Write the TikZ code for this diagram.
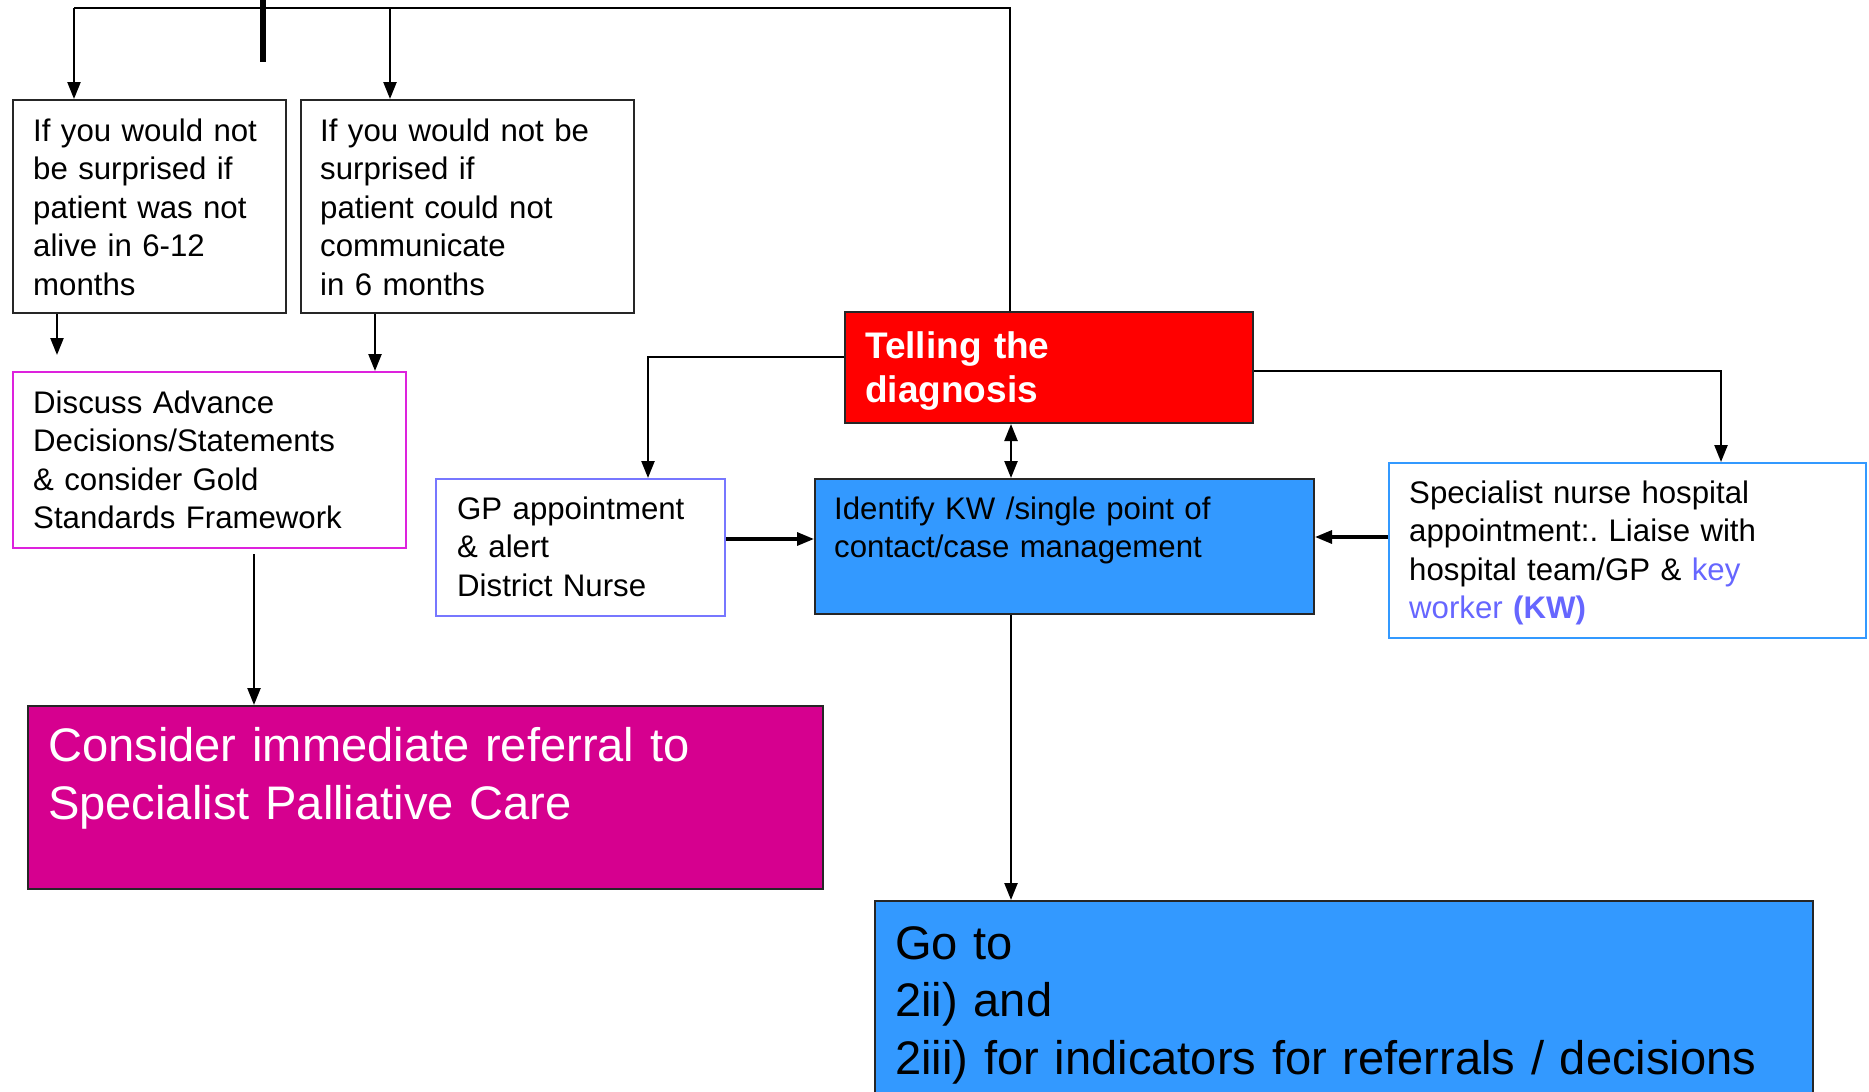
\documentclass[tikz,border=0pt]{standalone}
\usepackage{fontspec}
\setmainfont{Liberation Sans}
\usetikzlibrary{arrows.meta}
\frenchspacing
\definecolor{cred}{HTML}{FF0000}
\definecolor{cmag}{HTML}{D6008F}
\definecolor{cblue}{HTML}{3399FF}
\definecolor{cdisc}{HTML}{DD22DD}
\definecolor{cgp}{HTML}{7777FF}
\definecolor{kwc}{HTML}{6666FF}
\tikzset{
  box/.style={draw=black!85, line width=2pt, anchor=north west, inner sep=0pt, rectangle},
  conn/.style={line width=2.4pt, black},
  arr/.style={conn, -{Triangle[length=17pt,width=13pt]}},
  dbl/.style={conn, {Triangle[length=17pt,width=13pt]}-{Triangle[length=17pt,width=13pt]}},
  txt/.style={anchor=base west, inner sep=0pt, align=left, text width=1000pt, font=\fontsize{31.2}{38.5}\selectfont},
  bigtxt/.style={anchor=base west, inner sep=0pt, align=left, text width=1000pt, font=\fontsize{47.1}{57.5}\selectfont},
}
\begin{document}
\begin{tikzpicture}[x=1pt,y=-1pt]
\useasboundingbox (0,0) rectangle (1869,1092);
% boxes
\node[box, minimum width=273pt, minimum height=213pt] (b1) at (12,99) {};
\node[box, minimum width=333pt, minimum height=213pt] (b2) at (300,99) {};
\node[box, draw=cdisc, minimum width=393pt, minimum height=176pt] (disc) at (12,371) {};
\node[box, draw=cgp, minimum width=289pt, minimum height=137pt] (gp) at (435,478) {};
\node[box, fill=cred, minimum width=408pt, minimum height=111pt] (tell) at (844,311) {};
\node[box, fill=cblue, minimum width=499pt, minimum height=135pt] (ident) at (814,478) {};
\node[box, draw=cblue, minimum width=477pt, minimum height=175pt] (spec) at (1388,462) {};
\node[box, fill=cmag, minimum width=795pt, minimum height=183pt] (cons) at (27,705) {};
\node[box, fill=cblue, minimum width=938pt, minimum height=250pt] (goto) at (874,900) {};
% texts
\node[txt] (t1) at (33,141) {If you would not\\be surprised if\\patient was not\\alive in 6-12\\months};
\node[txt] (t2) at (320,141) {If you would not be\\surprised if\\patient could not\\communicate\\in 6 months};
\node[txt] (tdisc) at (33,413) {Discuss Advance\\Decisions/Statements\\\& consider Gold\\Standards Framework};
\node[txt] (tgp) at (457,519) {GP appointment\\\& alert\\District Nurse};
\node[anchor=base west, inner sep=0pt, align=left, text width=400pt, font=\fontsize{37}{44}\selectfont\bfseries, text=white] (ttell) at (865,358) {Telling the\\diagnosis};
\node[txt] (tident) at (834,519) {Identify KW /single point of\\contact/case management};
\node[txt] (tspec) at (1409,503) {Specialist nurse hospital\\appointment:. Liaise with\\hospital team/GP \& {\color{kwc}key}\\{\color{kwc}worker \textbf{(KW)}}};
\node[bigtxt, text=white, font=\fontsize{47.1}{58}\selectfont] (tcons) at (48,761) {Consider immediate referral to\\Specialist Palliative Care};
\node[bigtxt] (tgoto) at (895,959) {Go to\\2ii) and\\2iii) for indicators for referrals / decisions};
% connectors
\coordinate (bar1) at (263,0);
\coordinate (bar2) at (263,62);
\draw[line width=6pt] (bar1) -- (bar2);
\coordinate (c1) at (74,8);
\coordinate (c2) at (390,8);
\draw[conn] ([xshift=166pt]tell.north west) |- (c1);
\draw[arr] (c1) -- (c1 |- b1.north);
\draw[arr] (c2) -- (c2 |- b2.north);
\coordinate (e3) at (57,355);
\draw[arr] (e3 |- b1.south) -- (e3);
\coordinate (c4) at (375,0);
\draw[arr] (c4 |- b2.south) -- (c4 |- disc.north);
\coordinate (s5) at (254,554);
\draw[arr] (s5) -- (s5 |- cons.north);
\coordinate (c6) at (648,357);
\draw[arr] (c6 -| tell.west) -- (c6) -- (c6 |- gp.north);
\coordinate (c7) at (1721,371);
\draw[arr] (c7 -| tell.east) -- (c7) -- (c7 |- spec.north);
\coordinate (c8) at (1011,0);
\draw[dbl] (c8 |- tell.south) -- (c8 |- ident.north);
\coordinate (c9) at (0,539);
\draw[arr, line width=3.2pt] (c9 -| gp.east) -- (c9 -| ident.west);
\coordinate (c10) at (0,537);
\draw[arr, line width=3.2pt] (c10 -| spec.west) -- (c10 -| ident.east);
\draw[arr] (c8 |- ident.south) -- (c8 |- goto.north);
\end{tikzpicture}
\end{document}
